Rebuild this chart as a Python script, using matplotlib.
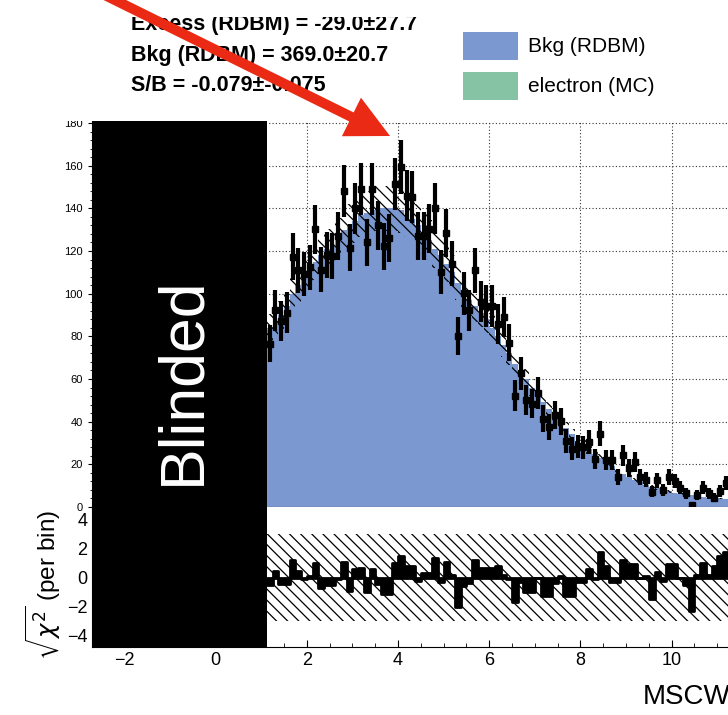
import numpy as np
import matplotlib.pyplot as plt
from matplotlib.patches import FancyArrow, Rectangle
from matplotlib.ticker import MultipleLocator

plt.rcParams['font.family'] = ['Liberation Sans', 'DejaVu Sans']
plt.rcParams['hatch.linewidth'] = 0.9

# binning of the MSCW histogram (left part is blinded)
bin_width = 0.125
first_edge = 1.125

data_counts = [76.5, 92.2, 87.2, 91.1, 117.4, 111.0, 109.2, 112.4, 130.2, 111.2,
               118.0, 117.5, 127.2, 148.2, 121.5, 140.0, 149.0, 124.0, 149.0, 132.1,
               122.2, 126.3, 151.3, 159.3, 146.0, 145.3, 127.1, 127.1, 130.5, 140.0,
               110.2, 128.3, 114.1, 80.2, 100.2, 92.3, 111.0, 96.3, 94.2, 94.2,
               85.8, 89.2, 77.0, 52.2, 62.6, 50.1, 48.5, 53.4, 41.4, 37.3,
               43.2, 40.2, 31.0, 27.4, 28.5, 28.0, 30.5, 22.4, 34.3, 22.0,
               22.0, 14.2, 24.3, 18.2, 21.0, 14.0, 12.8, 7.2, 12.6, 8.1,
               14.2, 12.2, 9.0, 6.5, 1.1, 5.6, 9.0, 6.4, 4.3, 7.4, 11.2]

bkg_counts = [84, 87, 90, 94, 100, 104, 108, 111, 115, 118,
              121, 123, 126, 130, 132, 134, 137, 138, 139, 140,
              140, 140, 140, 139, 137, 135, 132, 128, 125, 121,
              118, 114, 110, 105, 101, 97, 94, 91, 88, 84,
              80, 76, 72, 67, 64, 60, 56, 52, 49, 46,
              43, 40, 37, 34, 31, 29, 27, 25, 23, 21,
              19, 17, 15.5, 14, 12.8, 11.6, 10.5, 9.5, 8.7, 8.0,
              7.3, 6.7, 6.2, 5.8, 5.4, 5.0, 4.7, 4.4, 4.2, 4.0, 3.8]
bkg_rel_err = 0.075

chi_per_bin = [-0.5, 0.5, -0.45, -0.45, 1.2, 0.5, -0.1, 0.1, 1.0, -0.7,
               -0.5, -0.5, -0.1, 1.1, -0.9, 0.6, 0.7, -1.0, 0.6, -0.45,
               -1.1, -1.1, 1.0, 1.5, 0.8, 0.8, -0.2, 0.35, 0.35, 1.4,
               -0.3, 1.1, 0.2, -2.05, -0.55, -0.4, 1.2, 0.7, 0.7, 0.7,
               0.8, 0.2, -0.1, -1.65, -0.3, -1.0, -1.0, 0.0, -1.3, -1.3,
               -0.4, 0.1, -1.25, -1.25, -0.3, -0.3, 0.6, -0.1, 1.75, 0.8,
               -0.3, -0.3, 1.2, 0.95, 0.95, 0.0, 0.1, -1.5, 0.4, -0.2,
               0.95, 0.95, 0.0, -0.5, -2.3, 0.2, 1.05, 0.2, 0.8, 1.5, 1.8]

info_lines = ["Excess (RDBM) = -29.0\u00b127.7",
              "Bkg (RDBM) = 369.0\u00b120.7",
              "S/B = -0.079\u00b1-0.075"]
legend_labels = ["Bkg (RDBM)", "electron (MC)"]
legend_colors = ["#7b98d0", "#86c3a5"]

data = np.array(data_counts)
bkg = np.array(bkg_counts)
chi = np.array(chi_per_bin)
edges = first_edge + bin_width * np.arange(len(data) + 1)
centers = edges[:-1] + bin_width / 2

W, H = 728, 715
fig = plt.figure(figsize=(W / 100, H / 100), dpi=100)


def px_box(x0, y0, x1, y1):
    # pixel box (y down) -> figure fraction rect
    return [x0 / W, 1 - y1 / H, (x1 - x0) / W, (y1 - y0) / H]


xlim = (-2.71, 11.98)

# ---- main panel
ax = fig.add_axes(px_box(92, 120, 762, 507))
ax.stairs(bkg, edges, fill=True, color=legend_colors[0], lw=0, zorder=1)
lo = bkg * (1 - bkg_rel_err)
hi = bkg * (1 + bkg_rel_err)
ax.fill_between(edges, np.append(lo, lo[-1]), np.append(hi, hi[-1]), step='post',
                facecolor='none', edgecolor='black', hatch='\\\\\\', lw=0, zorder=2)
ax.errorbar(centers, data, yerr=np.sqrt(data), fmt='s', ms=4.5, color='black',
            elinewidth=3, capsize=0, zorder=4)
ax.axvspan(xlim[0], first_edge, color='black', lw=0, zorder=5)
ax.set_xlim(*xlim)
ax.set_ylim(0, 181.4)
ax.yaxis.set_major_locator(MultipleLocator(20))
ax.yaxis.set_minor_locator(MultipleLocator(4))
ax.xaxis.set_major_locator(MultipleLocator(2))
ax.tick_params(axis='y', which='major', direction='inout', length=6, labelsize=8)
ax.tick_params(axis='y', which='minor', direction='inout', length=3)
ax.tick_params(axis='x', length=0, labelbottom=False)
ax.grid(True, ls=(0, (1, 2)), color='#333333', lw=0.8)
ax.set_axisbelow(True)
ax.spines['top'].set_visible(False)
ax.spines['right'].set_visible(False)

# ---- ratio panel
axr = fig.add_axes(px_box(92, 507, 762, 647), zorder=1)
axr.fill_between(xlim, -3, 3, facecolor='none', edgecolor='black', hatch='\\\\\\', lw=0)
axr.fill_between(edges, np.append(chi, chi[-1]), 0, step='post', facecolor='black',
                 edgecolor='black', lw=2, zorder=3)
axr.axvspan(xlim[0], first_edge, color='black', lw=0, zorder=5)
axr.set_xlim(*xlim)
axr.set_ylim(-4.8, 4.9)
axr.set_yticks([-4, -2, 0, 2, 4])
axr.xaxis.set_major_locator(MultipleLocator(2))
axr.xaxis.set_minor_locator(MultipleLocator(0.5))
axr.tick_params(which='major', direction='in', length=5, labelsize=13)
axr.tick_params(which='minor', direction='in', length=3)
axr.spines['top'].set_visible(False)
axr.spines['right'].set_visible(False)

fig.text(183 / W, 1 - 381 / H, "Blinded", rotation=90, color='white', fontsize=45,
         ha='center', va='center', zorder=6)
fig.text(44 / W, 1 - 585 / H, r"$\sqrt{\chi^2}$ (per bin)", rotation=90, fontsize=17.5,
         ha='center', va='center')
fig.text(643 / W, 1 - 697 / H, "MSCW", fontsize=20, ha='left', va='center')

# white strip above the frame (clips the top tick label)
fig.add_artist(Rectangle((0, 1 - 121 / H), 1, 121 / H, transform=fig.transFigure,
                         facecolor='white', lw=0, zorder=2))

for k, line in enumerate(info_lines):
    fig.text(131 / W, 1 - (30 + 30.5 * k) / H, line, fontsize=15.5, fontweight='bold',
             va='baseline', zorder=3)

# the picture is cropped just through the first text line
fig.add_artist(Rectangle((0, 1 - 16.5 / H), 1, 16.5 / H, transform=fig.transFigure,
                         facecolor='white', lw=0, zorder=3.5))

for k, (lab, col) in enumerate(zip(legend_labels, legend_colors)):
    y0 = 32 + 40 * k
    fig.add_artist(Rectangle((463 / W, 1 - (y0 + 28) / H), 55 / W, 28 / H,
                             transform=fig.transFigure, facecolor=col, lw=0, zorder=3))
    fig.text(528 / W, 1 - (y0 + 14) / H, lab, fontsize=15, va='center', zorder=3)

# red arrow pointing at the peak
fig.add_artist(FancyArrow(0.50, 7.47, 3.40, -1.68, width=0.10, head_width=0.43,
                          head_length=0.43, length_includes_head=True,
                          color='#ea2a14', lw=0, transform=fig.dpi_scale_trans, zorder=4))

fig.savefig("out.png", dpi=100)
